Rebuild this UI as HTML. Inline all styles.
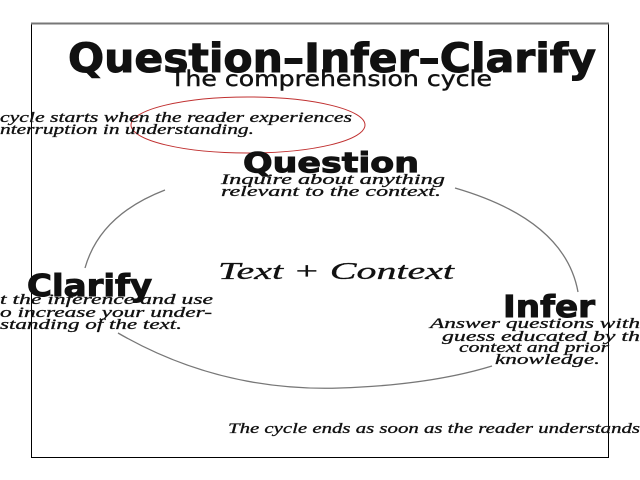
<!DOCTYPE html>
<html><head><meta charset="utf-8"><style>html,body{margin:0;padding:0;background:#fff}svg{display:block}</style></head><body>
<svg width="640" height="480" viewBox="0 0 640 480" xmlns="http://www.w3.org/2000/svg">
<rect x="0" y="0" width="640" height="480" fill="#fff"/>
<rect x="31.5" y="23.5" width="577" height="434" fill="none" stroke="#000" stroke-width="1"/>
<line x1="31" y1="23.5" x2="609" y2="23.5" stroke="#777" stroke-width="2"/>
<g fill="none" stroke="#777" stroke-width="1.3">
<path d="M165,190 Q100,215 85,268"/>
<path d="M455,188 Q565,220 578,292"/>
<path d="M118,333 Q220,392 340,388 Q430,385 492,366"/>
</g>
<ellipse cx="248" cy="125" rx="117" ry="28" fill="none" stroke="#c03030" stroke-width="1"/>
<g font-family="DejaVu Sans, Liberation Sans, sans-serif" font-weight="bold" fill="#111" stroke="#111" stroke-width="1">
<text x="68" y="72" font-size="40" textLength="528" lengthAdjust="spacingAndGlyphs">Question–Infer–Clarify</text>
<text x="243" y="172" font-size="28" textLength="176" lengthAdjust="spacingAndGlyphs">Question</text>
<text x="27" y="296" font-size="30" textLength="125" lengthAdjust="spacingAndGlyphs">Clarify</text>
<text x="503" y="317" font-size="30" textLength="92" lengthAdjust="spacingAndGlyphs">Infer</text>
</g>
<text x="170" y="86" font-family="DejaVu Sans, sans-serif" font-size="21" fill="#111" stroke="#111" stroke-width="0.4" textLength="322" lengthAdjust="spacingAndGlyphs">The comprehension cycle</text>
<g font-family="Liberation Serif, serif" font-style="italic" fill="#111" font-size="15" stroke="#111" stroke-width="0.3">
<text x="0" y="122" textLength="352" lengthAdjust="spacingAndGlyphs">cycle starts  when the reader experiences</text>
<text x="0" y="134" textLength="254" lengthAdjust="spacingAndGlyphs">nterruption in understanding.</text>
<text x="221" y="184" textLength="224" lengthAdjust="spacingAndGlyphs">Inquire about anything</text>
<text x="221" y="196" textLength="220" lengthAdjust="spacingAndGlyphs">relevant to the context.</text>
<text x="218" y="279" font-size="24" textLength="236" lengthAdjust="spacingAndGlyphs">Text + Context</text>
<text x="0" y="304" textLength="213" lengthAdjust="spacingAndGlyphs">t the inference and use</text>
<text x="0" y="317" textLength="212" lengthAdjust="spacingAndGlyphs">o increase your under-</text>
<text x="0" y="329" textLength="182" lengthAdjust="spacingAndGlyphs">standing of the text.</text>
<text x="430" y="328" textLength="210" lengthAdjust="spacingAndGlyphs">Answer questions with</text>
<text x="442" y="341" textLength="198" lengthAdjust="spacingAndGlyphs">guess educated by th</text>
<text x="459" y="352" textLength="150" lengthAdjust="spacingAndGlyphs">context and prior</text>
<text x="495" y="364" textLength="105" lengthAdjust="spacingAndGlyphs">knowledge.</text>
<text x="228" y="433" textLength="412" lengthAdjust="spacingAndGlyphs">The cycle ends as soon as the reader understands</text>
</g>
</svg>
</body></html>
